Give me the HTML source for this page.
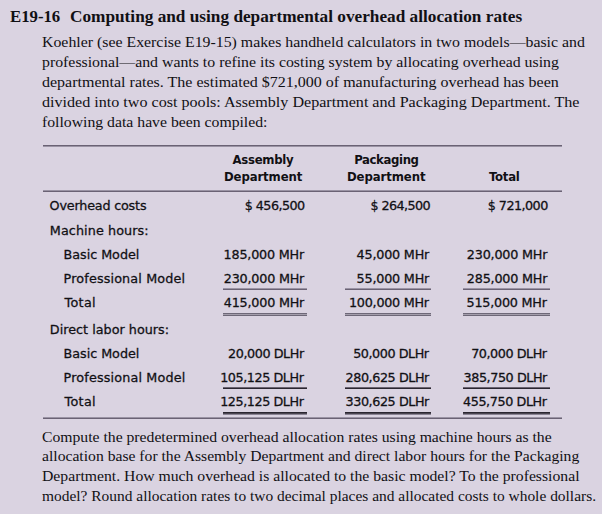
<!DOCTYPE html><html><head><meta charset="utf-8"><style>
html,body{margin:0;padding:0;}
body{width:602px;height:514px;background:#dad3e1;position:relative;overflow:hidden;color:#111014;}
.t{position:absolute;white-space:pre;transform-origin:0 0;}
.r{position:absolute;}
</style></head><body>
<div class="t" id="t0" style="font-family:'Liberation Serif', serif;font-size:16px;font-weight:700;line-height:20px;top:7.10px;left:10.18px;transform:scaleX(1.0468);">E19-16</div>
<div class="t" id="t1" style="font-family:'Liberation Serif', serif;font-size:16px;font-weight:700;line-height:20px;top:7.10px;left:69.58px;transform:scaleX(1.0776);">Computing and using departmental overhead allocation rates</div>
<div class="t" id="t2" style="font-family:'Liberation Serif', serif;font-size:15.4px;font-weight:400;line-height:19px;top:31.80px;left:41.99px;transform:scaleX(1.0294);">Koehler (see Exercise E19-15) makes handheld calculators in two models—basic and</div>
<div class="t" id="t3" style="font-family:'Liberation Serif', serif;font-size:15.4px;font-weight:400;line-height:19px;top:51.80px;left:41.99px;transform:scaleX(1.0283);">professional—and wants to refine its costing system by allocating overhead using</div>
<div class="t" id="t4" style="font-family:'Liberation Serif', serif;font-size:15.4px;font-weight:400;line-height:19px;top:71.80px;left:41.98px;transform:scaleX(1.0403);">departmental rates. The estimated $721,000 of manufacturing overhead has been</div>
<div class="t" id="t5" style="font-family:'Liberation Serif', serif;font-size:15.4px;font-weight:400;line-height:19px;top:91.80px;left:41.98px;transform:scaleX(1.0458);">divided into two cost pools: Assembly Department and Packaging Department. The</div>
<div class="t" id="t6" style="font-family:'Liberation Serif', serif;font-size:15.4px;font-weight:400;line-height:19px;top:111.80px;left:41.99px;transform:scaleX(1.0224);">following data have been compiled:</div>
<div class="t" id="t7" style="font-family:'Liberation Serif', serif;font-size:15.4px;font-weight:400;line-height:19px;top:426.80px;left:41.79px;transform:scaleX(1.0192);">Compute the predetermined overhead allocation rates using machine hours as the</div>
<div class="t" id="t8" style="font-family:'Liberation Serif', serif;font-size:15.4px;font-weight:400;line-height:19px;top:445.80px;left:41.79px;transform:scaleX(1.0170);">allocation base for the Assembly Department and direct labor hours for the Packaging</div>
<div class="t" id="t9" style="font-family:'Liberation Serif', serif;font-size:15.4px;font-weight:400;line-height:19px;top:465.80px;left:41.79px;transform:scaleX(1.0210);">Department. How much overhead is allocated to the basic model? To the professional</div>
<div class="t" id="t10" style="font-family:'Liberation Serif', serif;font-size:15.4px;font-weight:400;line-height:19px;top:485.80px;left:41.80px;transform:scaleX(1.0033);">model? Round allocation rates to two decimal places and allocated costs to whole dollars.</div>
<div class="t" id="t11" style="font-family:'DejaVu Sans Condensed', 'DejaVu Sans', sans-serif;font-size:13px;font-weight:700;line-height:16px;top:152.00px;left:232.60px;letter-spacing:-0.286px;">Assembly</div>
<div class="t" id="t12" style="font-family:'DejaVu Sans Condensed', 'DejaVu Sans', sans-serif;font-size:13px;font-weight:700;line-height:16px;top:169.00px;left:224.00px;letter-spacing:-0.111px;">Department</div>
<div class="t" id="t13" style="font-family:'DejaVu Sans Condensed', 'DejaVu Sans', sans-serif;font-size:13px;font-weight:700;line-height:16px;top:152.00px;left:354.20px;letter-spacing:-0.375px;">Packaging</div>
<div class="t" id="t14" style="font-family:'DejaVu Sans Condensed', 'DejaVu Sans', sans-serif;font-size:13px;font-weight:700;line-height:16px;top:169.00px;left:347.00px;letter-spacing:-0.089px;">Department</div>
<div class="t" id="t15" style="font-family:'DejaVu Sans Condensed', 'DejaVu Sans', sans-serif;font-size:13px;font-weight:700;line-height:16px;top:169.00px;left:489.00px;letter-spacing:-0.250px;">Total</div>
<div class="t" id="t16" style="font-family:'DejaVu Sans', sans-serif;font-size:12.75px;font-weight:400;line-height:16px;top:198.09px;-webkit-text-stroke:0.28px #111014;left:49.60px;letter-spacing:-0.192px;">Overhead costs</div>
<div class="t" id="t17" style="font-family:'DejaVu Sans', sans-serif;font-size:12.75px;font-weight:400;line-height:16px;top:198.09px;-webkit-text-stroke:0.28px #111014;left:244.80px;letter-spacing:-0.575px;">$ 456,500</div>
<div class="t" id="t18" style="font-family:'DejaVu Sans', sans-serif;font-size:12.75px;font-weight:400;line-height:16px;top:198.09px;-webkit-text-stroke:0.28px #111014;left:370.60px;letter-spacing:-0.600px;">$ 264,500</div>
<div class="t" id="t19" style="font-family:'DejaVu Sans', sans-serif;font-size:12.75px;font-weight:400;line-height:16px;top:198.09px;-webkit-text-stroke:0.28px #111014;left:487.80px;letter-spacing:-0.550px;">$ 721,000</div>
<div class="t" id="t20" style="font-family:'DejaVu Sans', sans-serif;font-size:12.75px;font-weight:400;line-height:16px;top:223.09px;-webkit-text-stroke:0.28px #111014;left:49.80px;letter-spacing:0.092px;">Machine hours:</div>
<div class="t" id="t21" style="font-family:'DejaVu Sans', sans-serif;font-size:12.75px;font-weight:400;line-height:16px;top:247.09px;-webkit-text-stroke:0.28px #111014;left:63.60px;letter-spacing:-0.040px;">Basic Model</div>
<div class="t" id="t22" style="font-family:'DejaVu Sans', sans-serif;font-size:12.75px;font-weight:400;line-height:16px;top:247.09px;-webkit-text-stroke:0.28px #111014;left:223.60px;letter-spacing:-0.200px;">185,000 MHr</div>
<div class="t" id="t23" style="font-family:'DejaVu Sans', sans-serif;font-size:12.75px;font-weight:400;line-height:16px;top:247.09px;-webkit-text-stroke:0.28px #111014;left:356.60px;letter-spacing:-0.200px;">45,000 MHr</div>
<div class="t" id="t24" style="font-family:'DejaVu Sans', sans-serif;font-size:12.75px;font-weight:400;line-height:16px;top:247.09px;-webkit-text-stroke:0.28px #111014;left:466.80px;letter-spacing:-0.190px;">230,000 MHr</div>
<div class="t" id="t25" style="font-family:'DejaVu Sans', sans-serif;font-size:12.75px;font-weight:400;line-height:16px;top:271.09px;-webkit-text-stroke:0.28px #111014;left:63.60px;letter-spacing:0.147px;">Professional Model</div>
<div class="t" id="t26" style="font-family:'DejaVu Sans', sans-serif;font-size:12.75px;font-weight:400;line-height:16px;top:271.09px;-webkit-text-stroke:0.28px #111014;left:223.80px;letter-spacing:-0.210px;">230,000 MHr</div>
<div class="t" id="t27" style="font-family:'DejaVu Sans', sans-serif;font-size:12.75px;font-weight:400;line-height:16px;top:271.09px;-webkit-text-stroke:0.28px #111014;left:356.60px;letter-spacing:-0.200px;">55,000 MHr</div>
<div class="t" id="t28" style="font-family:'DejaVu Sans', sans-serif;font-size:12.75px;font-weight:400;line-height:16px;top:271.09px;-webkit-text-stroke:0.28px #111014;left:466.80px;letter-spacing:-0.190px;">285,000 MHr</div>
<div class="t" id="t29" style="font-family:'DejaVu Sans', sans-serif;font-size:12.75px;font-weight:400;line-height:16px;top:295.09px;-webkit-text-stroke:0.28px #111014;left:64.60px;letter-spacing:0.300px;">Total</div>
<div class="t" id="t30" style="font-family:'DejaVu Sans', sans-serif;font-size:12.75px;font-weight:400;line-height:16px;top:295.09px;-webkit-text-stroke:0.28px #111014;left:223.80px;letter-spacing:-0.210px;">415,000 MHr</div>
<div class="t" id="t31" style="font-family:'DejaVu Sans', sans-serif;font-size:12.75px;font-weight:400;line-height:16px;top:295.09px;-webkit-text-stroke:0.28px #111014;left:349.00px;letter-spacing:-0.250px;">100,000 MHr</div>
<div class="t" id="t32" style="font-family:'DejaVu Sans', sans-serif;font-size:12.75px;font-weight:400;line-height:16px;top:295.09px;-webkit-text-stroke:0.28px #111014;left:466.60px;letter-spacing:-0.230px;">515,000 MHr</div>
<div class="t" id="t33" style="font-family:'DejaVu Sans', sans-serif;font-size:12.75px;font-weight:400;line-height:16px;top:322.09px;-webkit-text-stroke:0.28px #111014;left:49.80px;letter-spacing:0.017px;">Direct labor hours:</div>
<div class="t" id="t34" style="font-family:'DejaVu Sans', sans-serif;font-size:12.75px;font-weight:400;line-height:16px;top:346.09px;-webkit-text-stroke:0.28px #111014;left:63.60px;letter-spacing:-0.040px;">Basic Model</div>
<div class="t" id="t35" style="font-family:'DejaVu Sans', sans-serif;font-size:12.75px;font-weight:400;line-height:16px;top:346.09px;-webkit-text-stroke:0.28px #111014;left:228.00px;letter-spacing:-0.420px;">20,000 DLHr</div>
<div class="t" id="t36" style="font-family:'DejaVu Sans', sans-serif;font-size:12.75px;font-weight:400;line-height:16px;top:346.09px;-webkit-text-stroke:0.28px #111014;left:353.20px;letter-spacing:-0.460px;">50,000 DLHr</div>
<div class="t" id="t37" style="font-family:'DejaVu Sans', sans-serif;font-size:12.75px;font-weight:400;line-height:16px;top:346.09px;-webkit-text-stroke:0.28px #111014;left:471.20px;letter-spacing:-0.460px;">70,000 DLHr</div>
<div class="t" id="t38" style="font-family:'DejaVu Sans', sans-serif;font-size:12.75px;font-weight:400;line-height:16px;top:370.09px;-webkit-text-stroke:0.28px #111014;left:63.60px;letter-spacing:0.159px;">Professional Model</div>
<div class="t" id="t39" style="font-family:'DejaVu Sans', sans-serif;font-size:12.75px;font-weight:400;line-height:16px;top:370.09px;-webkit-text-stroke:0.28px #111014;left:220.20px;letter-spacing:-0.436px;">105,125 DLHr</div>
<div class="t" id="t40" style="font-family:'DejaVu Sans', sans-serif;font-size:12.75px;font-weight:400;line-height:16px;top:370.09px;-webkit-text-stroke:0.28px #111014;left:345.60px;letter-spacing:-0.436px;">280,625 DLHr</div>
<div class="t" id="t41" style="font-family:'DejaVu Sans', sans-serif;font-size:12.75px;font-weight:400;line-height:16px;top:370.09px;-webkit-text-stroke:0.28px #111014;left:463.60px;letter-spacing:-0.436px;">385,750 DLHr</div>
<div class="t" id="t42" style="font-family:'DejaVu Sans', sans-serif;font-size:12.75px;font-weight:400;line-height:16px;top:394.09px;-webkit-text-stroke:0.28px #111014;left:64.60px;letter-spacing:0.300px;">Total</div>
<div class="t" id="t43" style="font-family:'DejaVu Sans', sans-serif;font-size:12.75px;font-weight:400;line-height:16px;top:394.09px;-webkit-text-stroke:0.28px #111014;left:220.20px;letter-spacing:-0.436px;">125,125 DLHr</div>
<div class="t" id="t44" style="font-family:'DejaVu Sans', sans-serif;font-size:12.75px;font-weight:400;line-height:16px;top:394.09px;-webkit-text-stroke:0.28px #111014;left:345.60px;letter-spacing:-0.436px;">330,625 DLHr</div>
<div class="t" id="t45" style="font-family:'DejaVu Sans', sans-serif;font-size:12.75px;font-weight:400;line-height:16px;top:394.09px;-webkit-text-stroke:0.28px #111014;left:463.00px;letter-spacing:-0.409px;">455,750 DLHr</div>
<div class="r" style="left:43px;top:145px;width:519.0px;height:1px;background:#6a6274"></div>
<div class="r" style="left:43px;top:146px;width:519.0px;height:1px;background:#9a93a4"></div>
<div class="r" style="left:43px;top:190px;width:519.0px;height:1px;background:#9a93a4"></div>
<div class="r" style="left:43px;top:191px;width:519.0px;height:1px;background:#6a6274"></div>
<div class="r" style="left:43px;top:417px;width:519.0px;height:1px;background:#9a93a4"></div>
<div class="r" style="left:43px;top:418px;width:519.0px;height:1px;background:#6a6274"></div>
<div class="r" style="left:223px;top:288px;width:84.0px;height:1px;background:#9a93a4"></div>
<div class="r" style="left:223px;top:289px;width:84.0px;height:1px;background:#6a6274"></div>
<div class="r" style="left:223px;top:313px;width:84.0px;height:1px;background:#6e6878"></div>
<div class="r" style="left:223px;top:314px;width:84.0px;height:1px;background:#a49eac"></div>
<div class="r" style="left:223px;top:315px;width:84.0px;height:1px;background:#6e6878"></div>
<div class="r" style="left:223px;top:387px;width:84.0px;height:1px;background:#6a6270"></div>
<div class="r" style="left:223px;top:388px;width:84.0px;height:1px;background:#2a2630"></div>
<div class="r" style="left:223px;top:412px;width:84.0px;height:1px;background:#2a2630"></div>
<div class="r" style="left:223px;top:413px;width:84.0px;height:1px;background:#4a4550"></div>
<div class="r" style="left:223px;top:414px;width:84.0px;height:1px;background:#8a8494"></div>
<div class="r" style="left:345px;top:288px;width:86.0px;height:1px;background:#9a93a4"></div>
<div class="r" style="left:345px;top:289px;width:86.0px;height:1px;background:#6a6274"></div>
<div class="r" style="left:345px;top:313px;width:86.0px;height:1px;background:#6e6878"></div>
<div class="r" style="left:345px;top:314px;width:86.0px;height:1px;background:#a49eac"></div>
<div class="r" style="left:345px;top:315px;width:86.0px;height:1px;background:#6e6878"></div>
<div class="r" style="left:345px;top:387px;width:86.0px;height:1px;background:#6a6270"></div>
<div class="r" style="left:345px;top:388px;width:86.0px;height:1px;background:#2a2630"></div>
<div class="r" style="left:345px;top:412px;width:86.0px;height:1px;background:#2a2630"></div>
<div class="r" style="left:345px;top:413px;width:86.0px;height:1px;background:#4a4550"></div>
<div class="r" style="left:345px;top:414px;width:86.0px;height:1px;background:#8a8494"></div>
<div class="r" style="left:463px;top:288px;width:87.0px;height:1px;background:#9a93a4"></div>
<div class="r" style="left:463px;top:289px;width:87.0px;height:1px;background:#6a6274"></div>
<div class="r" style="left:463px;top:313px;width:87.0px;height:1px;background:#6e6878"></div>
<div class="r" style="left:463px;top:314px;width:87.0px;height:1px;background:#a49eac"></div>
<div class="r" style="left:463px;top:315px;width:87.0px;height:1px;background:#6e6878"></div>
<div class="r" style="left:463px;top:387px;width:87.0px;height:1px;background:#6a6270"></div>
<div class="r" style="left:463px;top:388px;width:87.0px;height:1px;background:#2a2630"></div>
<div class="r" style="left:463px;top:412px;width:87.0px;height:1px;background:#2a2630"></div>
<div class="r" style="left:463px;top:413px;width:87.0px;height:1px;background:#4a4550"></div>
<div class="r" style="left:463px;top:414px;width:87.0px;height:1px;background:#8a8494"></div>
</body></html>
